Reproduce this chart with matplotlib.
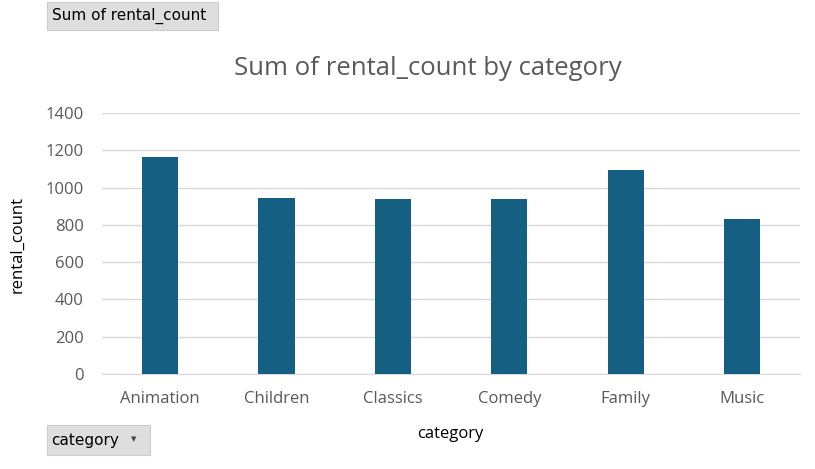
import matplotlib
matplotlib.use("Agg")
import matplotlib.pyplot as plt
from matplotlib.patches import Rectangle

categories = ["Animation", "Children", "Classics", "Comedy", "Family", "Music"]
rental_count = [1166, 945, 939, 941, 1096, 830]
yticks = [0, 200, 400, 600, 800, 1000, 1200, 1400]

plt.rcParams['font.family'] = ['Open Sans', 'DejaVu Sans']

fig = plt.figure(figsize=(8.15, 4.69), dpi=100)
ax = fig.add_axes([0.125, 0.2026, 0.857, 0.5565])

x = range(len(categories))
ax.bar(x, rental_count, width=0.31, color='#156082', zorder=3)

ax.set_xlim(-0.5, len(categories) - 0.5)
ax.set_ylim(0, 1400)
ax.set_yticks(yticks)
ax.set_xticks(list(x))
ax.set_xticklabels(categories)
ax.grid(axis='y', color='#d9d9d9', linewidth=1, zorder=0)
for s in ['top', 'right', 'left']:
    ax.spines[s].set_visible(False)
ax.spines['bottom'].set_color('#d9d9d9')
ax.tick_params(axis='both', length=0, labelsize=12, colors='#595959')
ax.tick_params(axis='y', pad=13)
ax.tick_params(axis='x', pad=12)

fig.text(0.525, 0.855, "Sum of rental_count by category", ha='center', va='center',
         fontsize=18.5, color='#595959')
fig.text(0.022, 0.478, "rental_count", rotation=90, ha='center', va='center', fontsize=12, color='black')
fig.text(0.552, 0.075, "category", ha='center', va='center', fontsize=12, color='black')

# pivot field buttons
fig.patches.append(Rectangle((47 / 815, 1 - 30 / 469), 171 / 815, 28 / 469,
                             transform=fig.transFigure, facecolor='#dedede', edgecolor='#cccccc', lw=0.8))
fig.text(52 / 815, 1 - 16 / 469, "Sum of rental_count", ha='left', va='center', fontsize=11, color='black',
         family='DejaVu Sans')
fig.patches.append(Rectangle((47 / 815, 1 - 455 / 469), 103 / 815, 30 / 469,
                             transform=fig.transFigure, facecolor='#dedede', edgecolor='#cccccc', lw=0.8))
fig.text(51 / 815, 1 - 440 / 469, "category", ha='left', va='center', fontsize=11, color='black',
         family='DejaVu Sans')
fig.text(134 / 815, 1 - 439 / 469, "\u25bc", ha='center', va='center', fontsize=5, color='#444444',
         family='DejaVu Sans')

fig.savefig("out.png", dpi=100)
